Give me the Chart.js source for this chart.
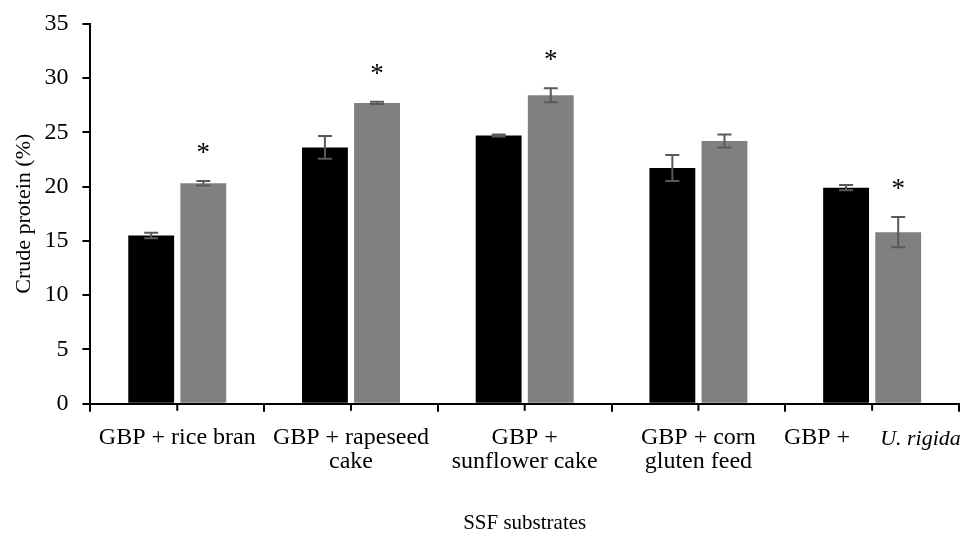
<!DOCTYPE html>
<html>
<head>
<meta charset="utf-8">
<script src="https://cdn.jsdelivr.net/npm/chart.js@4/dist/chart.umd.min.js"></script>
<style>
  html, body { margin: 0; padding: 0; background: #fff; }
  #wrap { width: 969px; height: 534px; }
</style>
</head>
<body>
<div id="wrap"><canvas id="cpChart"></canvas></div>
<script>
// categories (last one is drawn by hand because of the italic species name)
const substrates = [
  "GBP + rice bran",
  ["GBP + rapeseed", "cake"],
  ["GBP +", "sunflower cake"],
  ["GBP + corn", "gluten feed"],
  ""
];
const blackValues = [15.5, 23.6, 24.7, 21.7, 19.9];
const blackErrors = [0.25, 1.05, 0.1, 1.2, 0.25];
const grayValues = [20.3, 27.7, 28.4, 24.2, 15.8];
const grayErrors = [0.2, 0.1, 0.65, 0.6, 1.4];
const graySignificant = [true, true, true, false, true];
const yTicks = [0, 5, 10, 15, 20, 25, 30, 35];

const serif = "'Liberation Serif', 'Times New Roman', serif";

const errorBars = {
  id: "errorBars",
  afterDatasetsDraw(chart) {
    const { ctx, scales: { y } } = chart;
    ctx.save();
    chart.data.datasets.forEach((ds, di) => {
      const meta = chart.getDatasetMeta(di);
      meta.data.forEach((bar, i) => {
        const v = ds.data[i], e = ds.errors[i];
        const top = y.getPixelForValue(v + e);
        const bot = y.getPixelForValue(v - e);
        ctx.strokeStyle = "#595959";
        ctx.lineWidth = 2;
        ctx.beginPath();
        ctx.moveTo(bar.x, top); ctx.lineTo(bar.x, bot);
        ctx.moveTo(bar.x - 7, top); ctx.lineTo(bar.x + 7, top);
        ctx.moveTo(bar.x - 7, bot); ctx.lineTo(bar.x + 7, bot);
        ctx.stroke();
        // significance star
        if (ds.stars && ds.stars[i]) {
          ctx.fillStyle = "#000";
          ctx.font = "27px " + serif;
          ctx.textAlign = "center";
          ctx.textBaseline = "middle";
          ctx.fillText("*", bar.x, top - 27);
        }
      });
    });
    ctx.restore();
  }
};

const axisExtras = {
  id: "axisExtras",
  afterDraw(chart) {
    const { ctx, scales: { x } } = chart;
    const yb = x.top;
    ctx.save();
    // small ticks at category centres
    ctx.strokeStyle = "#000";
    ctx.lineWidth = 2;
    substrates.forEach((_, i) => {
      const px = x.getPixelForValue(i);
      ctx.beginPath();
      ctx.moveTo(px, yb); ctx.lineTo(px, yb + 7);
      ctx.stroke();
    });
    // last category label: "GBP +  U. rigida"
    const cx = x.getPixelForValue(substrates.length - 1);
    ctx.fillStyle = "#000";
    ctx.textBaseline = "middle";
    ctx.font = "24px " + serif;
    ctx.textAlign = "right";
    ctx.fillText("GBP +", cx - 22, yb + 34);
    ctx.font = "italic 22px " + serif;
    ctx.textAlign = "left";
    ctx.fillText("U. rigida", cx + 8, yb + 35);
    ctx.restore();
  }
};

new Chart(document.getElementById("cpChart"), {
  type: "bar",
  data: {
    labels: substrates,
    datasets: [
      { data: blackValues, errors: blackErrors, backgroundColor: "#000000",
        categoryPercentage: 0.6, barPercentage: 0.88 },
      { data: grayValues, errors: grayErrors, stars: graySignificant, backgroundColor: "#808080",
        categoryPercentage: 0.6, barPercentage: 0.88 }
    ]
  },
  options: {
    responsive: true,
    maintainAspectRatio: false,
    animation: false,
    layout: { padding: { top: 0, right: 10, left: 11, bottom: 0 } },
    plugins: {
      legend: { display: false },
      tooltip: { enabled: false }
    },
    scales: {
      x: {
        grid: { drawOnChartArea: false, color: "#000", lineWidth: 2, tickLength: 8, offset: true },
        border: { color: "#000", width: 2 },
        ticks: {
          color: "#000", font: { family: serif, size: 24, lineHeight: 1.0 },
          maxRotation: 0, minRotation: 0, autoSkip: false, padding: 14
        },
        title: {
          display: true, text: "SSF substrates", color: "#000",
          font: { family: serif, size: 21 }, padding: { top: 23, bottom: -2 }
        }
      },
      y: {
        min: 0, max: 35,
        afterBuildTicks(axis) { axis.ticks = yTicks.map(v => ({ value: v })); },
        grid: { drawOnChartArea: false, color: "#000", lineWidth: 2, tickLength: 8 },
        border: { color: "#000", width: 2 },
        ticks: { color: "#000", font: { family: serif, size: 24, lineHeight: 0.8 }, padding: 14 },
        title: {
          display: true, text: "Crude protein (%)", color: "#000",
          font: { family: serif, size: 22 }, padding: { top: 0, bottom: -7 }
        }
      }
    }
  },
  plugins: [errorBars, axisExtras]
});
</script>
</body>
</html>
